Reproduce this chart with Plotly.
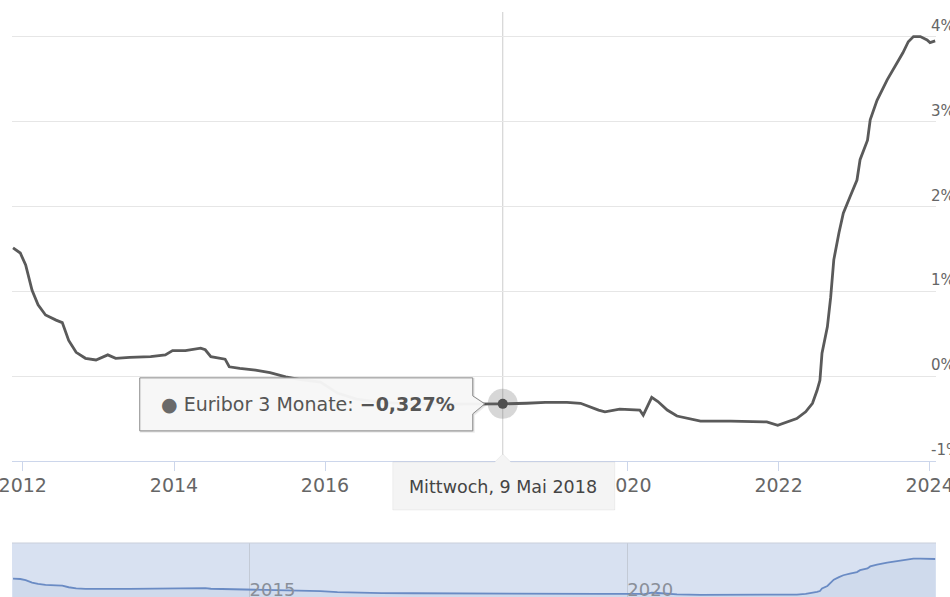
import plotly.graph_objects as go

# ---- data (Euribor 3 Monate, %) ----
DATES = [
    "2011-11-15", "2011-12-20",
    "2012-01-15", "2012-02-15", "2012-03-15", "2012-04-20", "2012-06-10", "2012-07-10",
    "2012-08-10", "2012-09-15", "2012-10-30", "2012-12-20",
    "2013-02-15", "2013-03-25", "2013-06-01", "2013-09-10", "2013-11-20", "2013-12-25",
    "2014-02-25", "2014-05-10", "2014-06-01", "2014-06-28", "2014-09-05", "2014-09-25", "2014-11-15",
    "2015-01-30", "2015-04-10", "2015-06-25", "2015-09-05", "2015-12-10",
    "2016-03-01", "2016-06-01", "2016-10-01",
    "2017-03-01", "2017-09-01",
    "2018-01-01", "2018-05-09", "2018-09-01", "2018-12-01",
    "2019-03-15", "2019-05-20", "2019-08-15", "2019-09-15", "2019-11-25",
    "2020-03-01", "2020-03-18", "2020-04-28", "2020-05-28", "2020-07-12", "2020-08-28", "2020-12-20",
    "2021-05-15", "2021-11-05", "2021-12-28",
    "2022-02-15", "2022-03-30", "2022-05-12", "2022-06-14", "2022-07-06", "2022-07-20", "2022-07-30",
    "2022-08-25", "2022-09-10", "2022-09-25", "2022-10-20", "2022-11-10", "2022-12-12",
    "2023-01-15", "2023-01-30", "2023-03-07", "2023-03-20", "2023-04-22", "2023-06-10",
    "2023-07-27", "2023-08-25", "2023-09-20", "2023-10-15", "2023-11-17", "2023-12-20",
    "2024-01-03", "2024-01-28",
]
VALUES = [
    1.51, 1.45,
    1.31, 1.01, 0.84, 0.72, 0.66, 0.63,
    0.42, 0.28, 0.21, 0.19,
    0.25, 0.21, 0.22, 0.23, 0.25, 0.30,
    0.30, 0.33, 0.31, 0.23, 0.20, 0.11, 0.09,
    0.07, 0.04, -0.01, -0.04, -0.07,
    -0.20, -0.27, -0.31,
    -0.33, -0.33,
    -0.33, -0.327, -0.32, -0.31,
    -0.31, -0.32, -0.40, -0.42, -0.39,
    -0.40, -0.46, -0.25, -0.30, -0.40, -0.47, -0.53,
    -0.53, -0.54, -0.58,
    -0.54, -0.50, -0.42, -0.32, -0.17, -0.05, 0.27,
    0.58, 0.93, 1.37, 1.69, 1.92, 2.11,
    2.31, 2.55, 2.78, 3.02, 3.25, 3.49,
    3.69, 3.81, 3.94, 4.00, 4.00, 3.96,
    3.93, 3.95,
]

SERIES_NAME = "Euribor 3 Monate"
HOVER_DATE = "2018-05-09"
HOVER_VALUE = -0.327
HOVER_LABEL = "Mittwoch, 9 Mai 2018"

X_RANGE = ["2011-11-10", "2024-02-01"]
X_TICKS = ["2012-01-01", "2014-01-01", "2016-01-01", "2018-01-01",
           "2020-01-01", "2022-01-01", "2024-01-01"]
X_TICK_TEXT = ["2012", "2014", "2016", "2018", "2020", "2022", "2024"]
Y_TICKS = [-1, 0, 1, 2, 3, 4]
Y_TICK_TEXT = ["-1%", "0%", "1%", "2%", "3%", "4%"]
Y_RANGE = [-1.0, 4.29]

NAV_TICKS = ["2015-01-01", "2020-01-01"]
NAV_TICK_TEXT = ["2015", "2020"]
NAV_FLOOR = -0.8
NAV_RANGE = [NAV_FLOOR, 5.95]

FONT = "DejaVu Sans"
LINE_COLOR = "#5a5a5a"

fig = go.Figure()

# main series
fig.add_trace(go.Scatter(x=DATES, y=VALUES, mode="lines", name=SERIES_NAME,
                         line=dict(color=LINE_COLOR, width=2.8),
                         xaxis="x", yaxis="y", hoverinfo="skip"))
# hover halo + marker
fig.add_trace(go.Scatter(x=[HOVER_DATE], y=[HOVER_VALUE], mode="markers",
                         marker=dict(size=30, color="rgba(95,95,95,0.25)"),
                         xaxis="x", yaxis="y", hoverinfo="skip"))
fig.add_trace(go.Scatter(x=[HOVER_DATE], y=[HOVER_VALUE], mode="markers",
                         marker=dict(size=10, color="#4f4f4f"),
                         xaxis="x", yaxis="y", hoverinfo="skip"))

# navigator
fig.add_trace(go.Scatter(x=[DATES[0], DATES[-1]], y=[NAV_FLOOR, NAV_FLOOR],
                         mode="lines", line=dict(width=0), xaxis="x2", yaxis="y2",
                         hoverinfo="skip"))
fig.add_trace(go.Scatter(x=DATES, y=VALUES, mode="lines", fill="tonexty",
                         fillcolor="rgba(69,114,167,0.06)",
                         line=dict(color="#6a8bc4", width=1.8),
                         xaxis="x2", yaxis="y2", hoverinfo="skip"))

MAIN_BOTTOM = 0.2325
NAV_TOP = 0.0923

value_text = f"{HOVER_VALUE:.3f}".replace(".", ",").replace("-", "\u2212") + "%"

fig.update_layout(
    width=950, height=597,
    margin=dict(l=12, r=14, t=12, b=0, autoexpand=False),
    paper_bgcolor="white", plot_bgcolor="white",
    showlegend=False,
    font=dict(family=FONT, color="#666666"),
    xaxis=dict(domain=[0, 1], anchor="y", type="date", range=X_RANGE,
               tickvals=X_TICKS, ticktext=X_TICK_TEXT, automargin=False,
               ticklabeloverflow="allow",
               showgrid=False, zeroline=False,
               showline=True, linecolor="#ccd6eb", linewidth=1,
               ticks="outside", ticklen=9, tickcolor="#ccd6eb",
               ticklabelstandoff=-2,
               tickfont=dict(family=FONT, size=19, color="#666666")),
    yaxis=dict(domain=[MAIN_BOTTOM, 1], anchor="x", side="right", range=Y_RANGE,
               tickvals=Y_TICKS, ticktext=Y_TICK_TEXT, automargin=False,
               ticklabeloverflow="allow",
               showgrid=True, gridcolor="#e6e6e6", gridwidth=1,
               zeroline=False, showline=False, ticks="",
               ticklabelshift=-11, ticklabelstandoff=-6,
               tickfont=dict(family=FONT, size=15, color="#666666")),
    xaxis2=dict(domain=[0, 1], anchor="y2", type="date", range=X_RANGE,
                tickvals=NAV_TICKS, ticktext=NAV_TICK_TEXT, automargin=False,
                ticklabeloverflow="allow",
                showgrid=True, gridcolor="#c3cad6", gridwidth=1,
                zeroline=False, showline=False, ticks="",
                ticklabelposition="inside right", ticklabelstandoff=-9,
                tickfont=dict(family=FONT, size=18, color="#8a8f99")),
    yaxis2=dict(domain=[0, NAV_TOP], anchor="x2", range=NAV_RANGE, visible=False,
                automargin=False),
    shapes=[
        # navigator background (selected range mask)
        dict(type="rect", xref="x2 domain", yref="y2 domain", x0=0, x1=1, y0=0, y1=1,
             fillcolor="#d8e1f1", line=dict(width=0), layer="below"),
        dict(type="line", xref="x2 domain", yref="y2 domain", x0=0, x1=1, y0=1, y1=1,
             line=dict(color="#c9cfdb", width=1)),
        # crosshair
        dict(type="line", xref="x", yref="y domain", x0=HOVER_DATE, x1=HOVER_DATE,
             y0=0, y1=1, line=dict(color="#cccccc", width=1), layer="below"),
        # tooltip shadow + callout box
        dict(type="path", xref="x", yref="y", xsizemode="pixel", ysizemode="pixel",
             xanchor=HOVER_DATE, yanchor=HOVER_VALUE,
             path="M-362,25 L-29,25 L-29,7 L-17,-1 L-29,-11 L-29,-28 L-362,-28 Z",
             fillcolor="rgba(0,0,0,0.06)", line=dict(color="rgba(0,0,0,0.08)", width=2),
             layer="above"),
        dict(type="path", xref="x", yref="y", xsizemode="pixel", ysizemode="pixel",
             xanchor=HOVER_DATE, yanchor=HOVER_VALUE,
             path="M-363,26 L-30,26 L-30,8 L-18,0 L-30,-10 L-30,-27 L-363,-27 Z",
             fillcolor="rgba(247,247,247,0.97)", line=dict(color="#8a8a8a", width=1),
             layer="above"),
        # date label box under crosshair
        dict(type="path", xref="x", yref="y domain", xsizemode="pixel", ysizemode="pixel",
             xanchor=HOVER_DATE, yanchor=0,
             path="M-110,-1 L-8,-1 L0,7 L8,-1 L112,-1 L112,-49 L-110,-49 Z",
             fillcolor="#f4f4f4", line=dict(color="rgba(0,0,0,0.05)", width=1),
             layer="above"),
    ],
    annotations=[
        dict(x=HOVER_DATE, y=HOVER_VALUE, xref="x", yref="y",
             xanchor="right", yanchor="middle", xshift=-46, showarrow=False,
             text=f"<span style='color:#6a6a6a'>\u25CF</span> {SERIES_NAME}: <b>{value_text}</b>",
             font=dict(family=FONT, size=19, color="#555555")),
        dict(x=HOVER_DATE, y=0, xref="x", yref="y domain",
             xanchor="center", yanchor="middle", yshift=-26, showarrow=False,
             text=HOVER_LABEL, font=dict(family=FONT, size=17.5, color="#444444")),
    ],
)

fig.write_html("out.html")
